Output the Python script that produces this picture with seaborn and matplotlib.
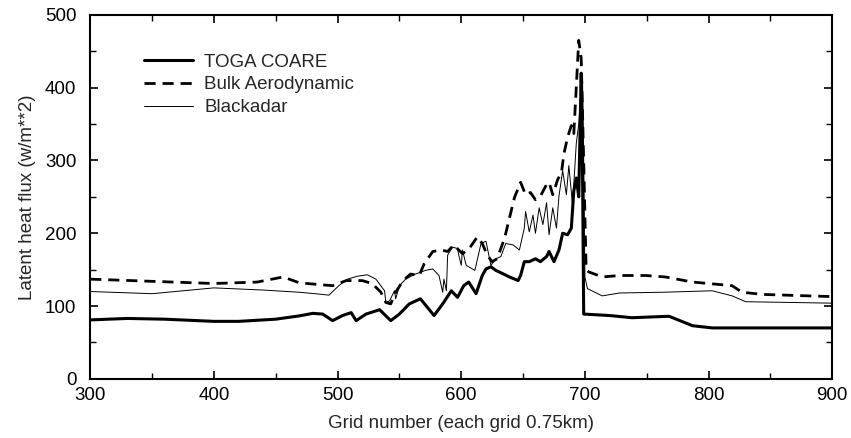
import matplotlib
matplotlib.use("Agg")
import matplotlib.pyplot as plt
import seaborn as sns
import pandas as pd
from matplotlib.ticker import MultipleLocator

toga_x = [300, 330, 360, 400, 420, 450, 469, 480, 488, 496, 504, 511, 515, 523, 534, 543, 550, 558, 567, 578,
          585, 592, 597, 602, 606, 612, 617, 620, 624, 628, 633, 639, 646, 648, 651, 655, 660, 664, 669, 671,
          675, 679, 682, 686, 689, 691, 693, 695, 697, 698, 699, 720, 738, 768, 787, 803, 850, 900]
toga_y = [81, 83, 82, 79, 79, 82, 86.5, 90, 89, 80, 87, 91, 80, 89, 95, 80, 89, 103, 110, 87,
          103, 121, 112, 128, 133, 117, 142, 151, 154, 149, 145, 140, 135, 142, 161, 161, 165, 161, 168, 175,
          161, 177, 200, 198, 207, 258, 276, 250, 420, 300, 89, 87, 84, 86, 73, 70, 70, 70]

bulk_x = [300, 350, 400, 435, 456, 469, 482, 496, 507, 520, 528, 535, 539, 543, 547, 553, 559, 566, 570, 577,
          584, 589, 594, 598, 601, 606, 613, 617, 621, 625, 629, 635, 639, 643, 648, 652, 656, 660, 664, 669,
          671, 674, 678, 681, 683, 686, 689, 691, 693, 695, 697, 699, 701, 703, 714, 728, 749, 765, 787, 819,
          827, 844, 900]
bulk_y = [137, 134, 131, 133, 140, 132, 130, 128, 135, 135, 131, 119, 105, 103, 119, 135, 144, 142, 158, 175,
          177, 175, 184, 177, 172, 178, 195, 186, 170, 161, 165, 193, 221, 249, 270, 253, 256, 246, 251, 267,
          270, 253, 274, 283, 309, 332, 348, 337, 400, 465, 440, 300, 150, 147, 140, 142, 142, 140, 133, 128,
          119, 116, 113]

black_x = [300, 350, 400, 440, 469, 482, 493, 501, 508, 516, 524, 531, 538, 539, 542, 546, 547, 550, 555, 563,
           571, 577, 582, 585, 586, 588, 589, 593, 597, 598, 600, 601, 604, 611, 616, 620, 624, 628, 632, 636,
           642, 647, 651, 652, 655, 658, 660, 663, 666, 669, 671, 674, 677, 679, 682, 685, 687, 690, 693, 695,
           697, 698, 699, 700, 702, 714, 728, 763, 803, 819, 830, 900]
black_y = [120, 117, 125, 122, 119, 117, 115, 128, 137, 141, 143, 137, 121, 105, 107, 121, 110, 128, 137, 144,
           149, 151, 142, 119, 137, 121, 170, 181, 179, 170, 156, 177, 156, 149, 186, 189, 156, 165, 168, 186,
           184, 177, 207, 230, 202, 225, 200, 235, 212, 242, 198, 235, 207, 251, 286, 253, 293, 239, 323, 350,
           400, 418, 300, 140, 124, 114, 118, 119, 121, 114, 106, 104]

labels = ["TOGA COARE", "Bulk Aerodynamic", "Blackadar"]
x_ticks = [300, 400, 500, 600, 700, 800, 900]
y_ticks = [0, 100, 200, 300, 400, 500]

sns.set_style("ticks")
plt.rcParams['font.family'] = ['Liberation Sans', 'DejaVu Sans']

fig = plt.figure(figsize=(8.51, 4.38), dpi=100)
ax = fig.add_axes([0.106, 0.135, 0.872, 0.831])

sns.lineplot(x=toga_x, y=toga_y, ax=ax, color="black", linewidth=2.2, label=labels[0],
             estimator=None, sort=False)
sns.lineplot(x=bulk_x, y=bulk_y, ax=ax, color="black", linewidth=2.0, label=labels[1],
             estimator=None, sort=False)
ax.lines[-1].set_dashes((4, 2.5))
sns.lineplot(x=black_x, y=black_y, ax=ax, color="black", linewidth=0.7, label=labels[2],
             estimator=None, sort=False)

ax.set_xlim(300, 900)
ax.set_ylim(0, 500)
ax.set_xticks(x_ticks)
ax.set_yticks(y_ticks)
ax.xaxis.set_minor_locator(MultipleLocator(50))
ax.yaxis.set_minor_locator(MultipleLocator(50))
ax.tick_params(which="both", direction="in", top=True, right=True, colors="black", labelsize=13.5)
ax.tick_params(which="major", length=6, width=1.2)
ax.tick_params(which="minor", length=4, width=1.0)
ax.tick_params(axis="y", which="major", pad=10)
ax.tick_params(axis="x", which="major", pad=6)
for s in ax.spines.values():
    s.set_linewidth(1.5)
    s.set_color("black")

ax.set_xlabel("Grid number (each grid 0.75km)", fontsize=13.5, labelpad=8)
ax.set_ylabel("Latent heat flux (w/m**2)", fontsize=13.5, labelpad=6)

leg = ax.legend(loc="upper left", bbox_to_anchor=(0.05, 0.94), frameon=False, fontsize=13.5,
                handlelength=2.6, handletextpad=0.6, labelspacing=0.3)

fig.savefig("out.png", dpi=100)
